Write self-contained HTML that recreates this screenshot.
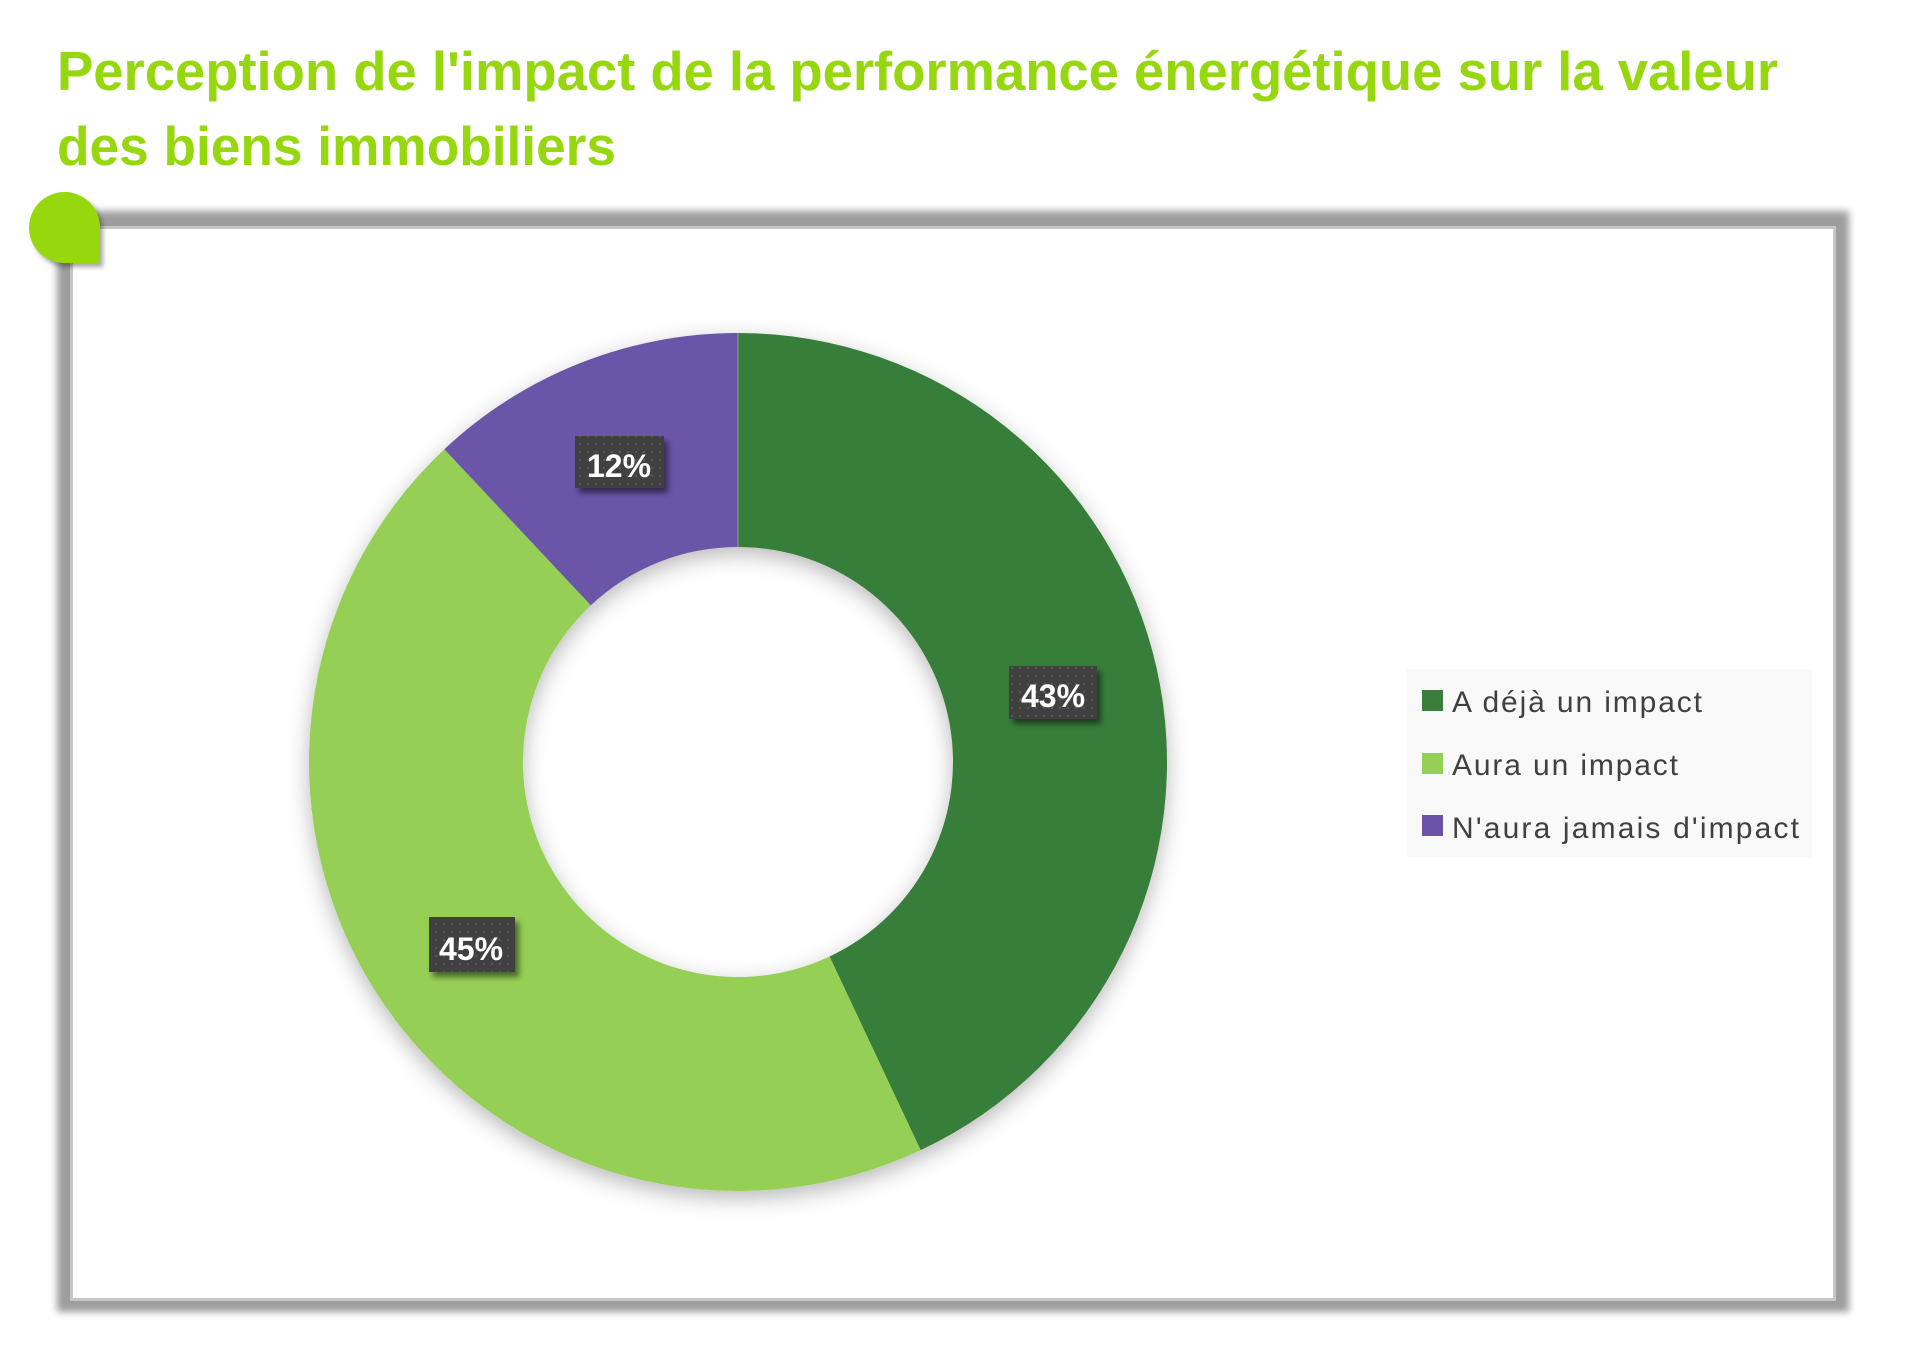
<!DOCTYPE html>
<html>
<head>
<meta charset="utf-8">
<style>
  html, body { margin:0; padding:0; background:#ffffff; }
  body { width:1906px; height:1362px; position:relative; overflow:hidden; }
  .frame {
    position:absolute; left:70px; top:226px; width:1766px; height:1075px;
    box-sizing:border-box; background:#ffffff; border:3px solid #c6c6c6;
    box-shadow: 0 -2px 7px 13px #9d9d9d;
  }
  svg.main { position:absolute; left:0; top:0; }
  .blob {
    position:absolute; left:29px; top:192px; width:71px; height:71px;
    background:#96d80d; border-radius:50% 50% 0 50%;
    box-shadow: 3px 4px 5px rgba(0,0,0,0.35);
  }
</style>
</head>
<body>
<div class="frame"></div>
<svg class="main" width="1906" height="1362" viewBox="0 0 1906 1362" xmlns="http://www.w3.org/2000/svg">
  <defs>
    <filter id="dshadow" x="-20%" y="-20%" width="140%" height="140%">
      <feDropShadow dx="0" dy="7" stdDeviation="11" flood-color="#000" flood-opacity="0.28"/>
    </filter>
    <filter id="lshadow" x="-30%" y="-30%" width="160%" height="160%">
      <feDropShadow dx="4" dy="5" stdDeviation="3" flood-color="#000" flood-opacity="0.5"/>
    </filter>
    <pattern id="dots" width="8" height="8" patternUnits="userSpaceOnUse">
      <rect width="8" height="8" fill="#414141"/>
      <rect x="3" y="3" width="2" height="2" fill="#585858"/>
    </pattern>
  </defs>

  <!-- Title -->
  <text x="57" y="90" font-family="'Liberation Sans', sans-serif" font-weight="bold" font-size="55" fill="#97d70f" textLength="1721" lengthAdjust="spacingAndGlyphs">Perception de l'impact de la performance énergétique sur la valeur</text>
  <text x="57" y="165" font-family="'Liberation Sans', sans-serif" font-weight="bold" font-size="55" fill="#97d70f" textLength="559" lengthAdjust="spacingAndGlyphs">des biens immobiliers</text>

  <!-- Donut -->
  <g filter="url(#dshadow)">
    <path d="M738,333 A429,429 0 0 1 920.66,1150.17 L829.54,956.54 A215,215 0 0 0 738,547 Z" fill="#397e3b"/>
    <path d="M920.66,1150.17 A429,429 0 0 1 444.33,449.27 L590.82,605.27 A215,215 0 0 0 829.54,956.54 Z" fill="#95cf55"/>
    <path d="M444.33,449.27 A429,429 0 0 1 738,333 L738,547 A215,215 0 0 0 590.82,605.27 Z" fill="#6b54a8"/>
    <line x1="738" y1="333" x2="738" y2="547" stroke="#ffffff" stroke-opacity="0.35" stroke-width="1"/>
  </g>

  <!-- Data labels -->
  <g font-family="'Liberation Sans', sans-serif" font-weight="bold" font-size="32" fill="#ffffff" text-anchor="middle">
    <rect x="1009" y="666" width="88" height="53" fill="url(#dots)" filter="url(#lshadow)"/>
    <text x="1053" y="707">43%</text>
    <rect x="429" y="917" width="86" height="55" fill="url(#dots)" filter="url(#lshadow)"/>
    <text x="471" y="960">45%</text>
    <rect x="575" y="436" width="89" height="52" fill="url(#dots)" filter="url(#lshadow)"/>
    <text x="619" y="477">12%</text>
  </g>

  <!-- Legend -->
  <rect x="1406" y="669" width="406" height="188" fill="#f9f9f9"/>
  <rect x="1422" y="690" width="21" height="21" fill="#397e3b"/>
  <rect x="1422" y="753" width="21" height="21" fill="#95cf55"/>
  <rect x="1422" y="815" width="21" height="21" fill="#6b54a8"/>
  <g font-family="'Liberation Sans', sans-serif" font-size="30" fill="#404040">
    <text x="1452" y="712" textLength="250" lengthAdjust="spacing">A déjà un impact</text>
    <text x="1452" y="775" textLength="226" lengthAdjust="spacing">Aura un impact</text>
    <text x="1452" y="838" textLength="347" lengthAdjust="spacing">N'aura jamais d'impact</text>
  </g>
</svg>
<div class="blob"></div>
</body>
</html>
